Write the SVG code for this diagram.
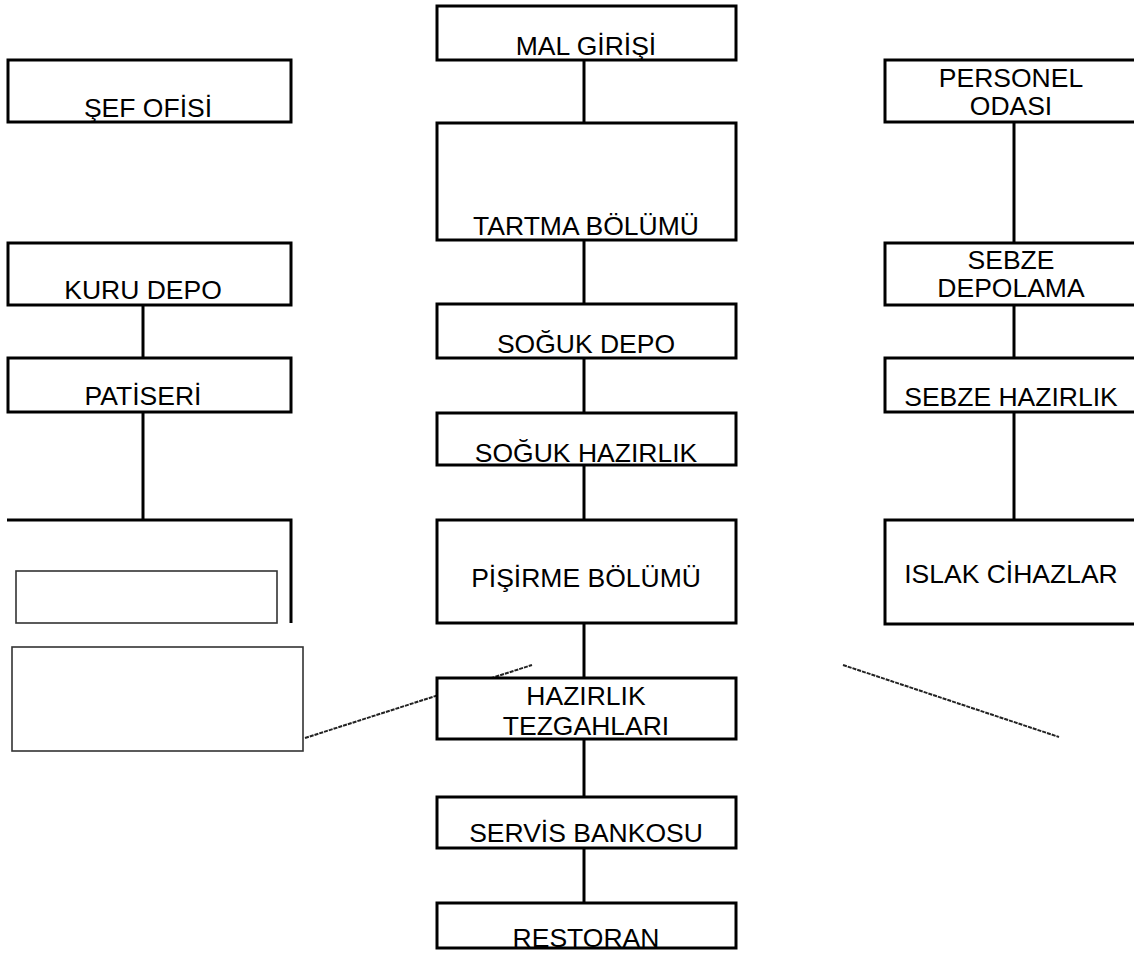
<svg xmlns="http://www.w3.org/2000/svg" width="1134" height="958" viewBox="0 0 1134 958">
<style>
.box{fill:#fff;stroke:#000;stroke-width:3}
.thin{fill:#fff;stroke:#333;stroke-width:1.6}
.c{stroke:#000;stroke-width:3;fill:none}
.d{stroke:#222;stroke-width:2;stroke-dasharray:4 1;fill:none}
text{font-family:"Liberation Sans",Arial,sans-serif;font-size:26.5px;fill:#000;text-anchor:middle}
</style>
<rect width="1134" height="958" fill="#fff"/>
<g id="connectors">
<line class="c" x1="584" y1="60" x2="584" y2="123"/>
<line class="c" x1="584" y1="240" x2="584" y2="304"/>
<line class="c" x1="584" y1="358" x2="584" y2="413"/>
<line class="c" x1="584" y1="465" x2="584" y2="520"/>
<line class="c" x1="584" y1="623" x2="584" y2="678"/>
<line class="c" x1="584" y1="739" x2="584" y2="797"/>
<line class="c" x1="584" y1="848" x2="584" y2="903"/>
<line class="c" x1="143" y1="305" x2="143" y2="358"/>
<polyline class="c" points="143,412 143,520"/>
<polyline class="c" points="7,520 291,520 291,623"/>
<line class="c" x1="1014" y1="122" x2="1014" y2="243"/>
<line class="c" x1="1014" y1="305" x2="1014" y2="358"/>
<line class="c" x1="1014" y1="412" x2="1014" y2="520"/>
<line class="d" x1="305" y1="738" x2="532" y2="665"/>
<line class="d" x1="843" y1="665" x2="1059" y2="737"/>
</g>
<g id="mal-girisi"><rect class="box" x="437" y="6" width="299" height="54"/><text x="586" y="55">MAL GİRİŞİ</text></g>
<g id="tartma"><rect class="box" x="437" y="123" width="299" height="117"/><text x="586" y="235">TARTMA BÖLÜMÜ</text></g>
<g id="soguk-depo"><rect class="box" x="437" y="304" width="299" height="54"/><text x="586" y="353">SOĞUK DEPO</text></g>
<g id="soguk-hazirlik"><rect class="box" x="437" y="413" width="299" height="52"/><text x="586" y="462">SOĞUK HAZIRLIK</text></g>
<g id="pisirme"><rect class="box" x="437" y="520" width="299" height="103"/><text x="586" y="587">PİŞİRME BÖLÜMÜ</text></g>
<g id="hazirlik-tezgahlari"><rect class="box" x="437" y="678" width="299" height="61"/><text x="586" y="705">HAZIRLIK</text><text x="586" y="735">TEZGAHLARI</text></g>
<g id="servis"><rect class="box" x="437" y="797" width="299" height="51"/><text x="586" y="842">SERVİS BANKOSU</text></g>
<g id="restoran"><rect class="box" x="437" y="903" width="299" height="45"/><text x="586" y="947">RESTORAN</text></g>
<g id="sef-ofisi"><rect class="box" x="8" y="60" width="283" height="62"/><text x="148" y="117">ŞEF OFİSİ</text></g>
<g id="kuru-depo"><rect class="box" x="8" y="243" width="283" height="62"/><text x="143" y="299">KURU DEPO</text></g>
<g id="patiseri"><rect class="box" x="8" y="358" width="283" height="54"/><text x="143" y="405">PATİSERİ</text></g>
<g id="empty-inner"><rect class="thin" x="16" y="571" width="261" height="52"/></g>
<g id="empty-lower"><rect class="thin" x="12" y="647" width="291" height="104"/></g>
<g id="personel"><rect class="box" x="885" y="60" width="300" height="62"/><text x="1011" y="87">PERSONEL</text><text x="1011" y="115">ODASI</text></g>
<g id="sebze-depolama"><rect class="box" x="885" y="243" width="300" height="62"/><text x="1011" y="269">SEBZE</text><text x="1011" y="297">DEPOLAMA</text></g>
<g id="sebze-hazirlik"><rect class="box" x="885" y="358" width="300" height="54"/><text x="1011" y="406">SEBZE HAZIRLIK</text></g>
<g id="islak"><rect class="box" x="885" y="520" width="300" height="104"/><text x="1011" y="583">ISLAK CİHAZLAR</text></g>
</svg>
